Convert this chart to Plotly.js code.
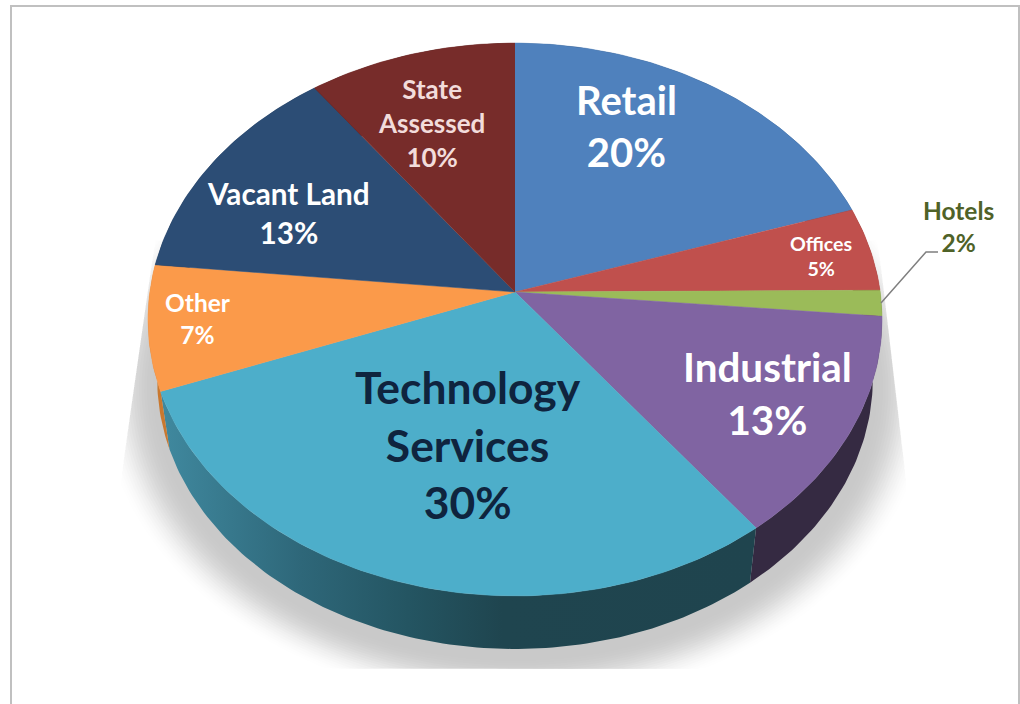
<!DOCTYPE html>
<html>
<head>
<meta charset="utf-8">
<script src="https://cdn.plot.ly/plotly-3.0.1.min.js"></script>
<style>html,body{margin:0;padding:0;background:#fff;overflow:hidden}</style>
</head>
<body>
<div id="chart" style="width:1020px;height:704px"></div>
<script>
// ---- data ----
const categories = ["Retail", "Offices", "Hotels", "Industrial", "Technology<br>Services", "Other", "Vacant Land", "State<br>Assessed"];
const values = [20, 4.9, 1.5, 13.2, 29.7, 7.3, 13.3, 10.1];

// ---- styles ----
const topColors = ["#4f81bd", "#c0504d", "#9bbb59", "#8064a2", "#4daeca", "#fb9a4a", "#2c4d75", "#772c2a"];
const wallColors = ["#2e4c70", "#74302e", "#5c7035", "#352a42", "#1f444e", "#c9782f", "#1a2e46", "#471a19"];
const labelColors = ["#ffffff", "#ffffff", "#4f6228", "#ffffff", "#0f243e", "#ffffff", "#ffffff", "#f2dcdb"];
const labelSizes = [40, 19.6, 24.5, 40.4, 44.4, 24.5, 29.7, 26];
const labelX = [626, 821, 958, 767, 468, 198, 288, 431];
const labelY = [126, 256, 226, 393, 444, 318, 213, 123];

// ---- projection of the tilted disc ----
const p = 0.0995;
const topDisc = {cx: 515, cy: 292, a: 365.2, b: 273.7};
const baseDisc = {cx: 515, cy: 352.5, a: 356, b: 267};
function project(d, deg) {
  const t = deg * Math.PI / 180, u = Math.sin(t), v = Math.cos(t), w = 1 + p * v;
  return [d.cx + d.a * u / w, d.cy - d.b * v / w];
}
function arc(d, from, to) {
  const n = Math.max(2, Math.ceil(Math.abs(to - from))), pts = [];
  for (let i = 0; i <= n; i++) pts.push(project(d, from + (to - from) * i / n));
  return pts;
}
const total = values.reduce((s, x) => s + x, 0);
const edges = [0];
values.forEach(x => edges.push(edges[edges.length - 1] + x / total * 360));

function poly(pts, extra) {
  return Object.assign({
    x: pts.map(q => q[0]), y: pts.map(q => q[1]),
    type: "scatter", mode: "lines", fill: "toself",
    line: {width: 0}, hoverinfo: "skip", showlegend: false
  }, extra);
}

const traces = [];

// soft shadow under the disc, clipped the way the picture clips it
const shadowLayers = 22;
function clipShadow(q) {
  const y = Math.min(669, Math.max(240, q[1]));
  const xl = 155 - (y - 240) * 0.143, xr = 878 + (y - 240) * 0.118;
  return [Math.min(xr, Math.max(xl, q[0])), y];
}
for (let k = shadowLayers; k >= 1; k--) {
  const e = k / shadowLayers;
  const grow = {cx: 515, cy: baseDisc.cy + 8, a: baseDisc.a + 58 * e, b: baseDisc.b + 44 * e};
  const alpha = 0.0155 * Math.sin(Math.PI * (k - 0.5) / shadowLayers);
  traces.push(poly(arc(grow, 0, 360).map(clipShadow), {fillcolor: "rgba(0,0,0," + alpha.toFixed(4) + ")"}));
}

// side walls
values.forEach((_, i) => {
  const a = edges[i], b = edges[i + 1];
  const pts = arc(topDisc, a, b).concat(arc(baseDisc, b, a));
  const extra = {fillcolor: wallColors[i]};
  if (i === 4) {
    extra.fillgradient = {
      type: "horizontal", start: 160, stop: 750,
      colorscale: [[0, "#40899f"], [0.24, "#2e6779"], [0.42, "#245562"], [0.58, "#1f454f"], [1, "#1f444e"]]
    };
  }
  traces.push(poly(pts, extra));
});

// top surface
values.forEach((_, i) => {
  const pts = [[topDisc.cx, topDisc.cy]].concat(arc(topDisc, edges[i], edges[i + 1]));
  traces.push(poly(pts, {fillcolor: topColors[i], line: {width: 0.5, color: topColors[i]}}));
});

const annotations = categories.map((c, i) => ({
  x: labelX[i], y: labelY[i], xref: "x", yref: "y",
  text: c + "<br>" + Math.round(values[i]) + "%",
  showarrow: false, xanchor: "center", yanchor: "middle", align: "center",
  font: {family: "Lato, 'Open Sans', sans-serif", size: labelSizes[i], color: labelColors[i], weight: 700}
}));

const layout = {
  width: 1020, height: 704,
  margin: {l: 0, r: 0, t: 0, b: 0, pad: 0},
  paper_bgcolor: "#ffffff", plot_bgcolor: "#ffffff",
  showlegend: false,
  xaxis: {range: [0, 1020], visible: false, fixedrange: true},
  yaxis: {range: [704, 0], visible: false, fixedrange: true},
  annotations,
  shapes: [
    {type: "path", xref: "x", yref: "y", path: "M 11 710 L 11 6 L 1019 6 L 1019 710", line: {color: "#c0c0c0", width: 2}},
    {type: "path", xref: "x", yref: "y", path: "M 881 303 L 926 252 L 938 252", line: {color: "#7f7f7f", width: 1.5}}
  ]
};
Plotly.newPlot("chart", traces, layout, {displayModeBar: false, staticPlot: true});
</script>
</body>
</html>
